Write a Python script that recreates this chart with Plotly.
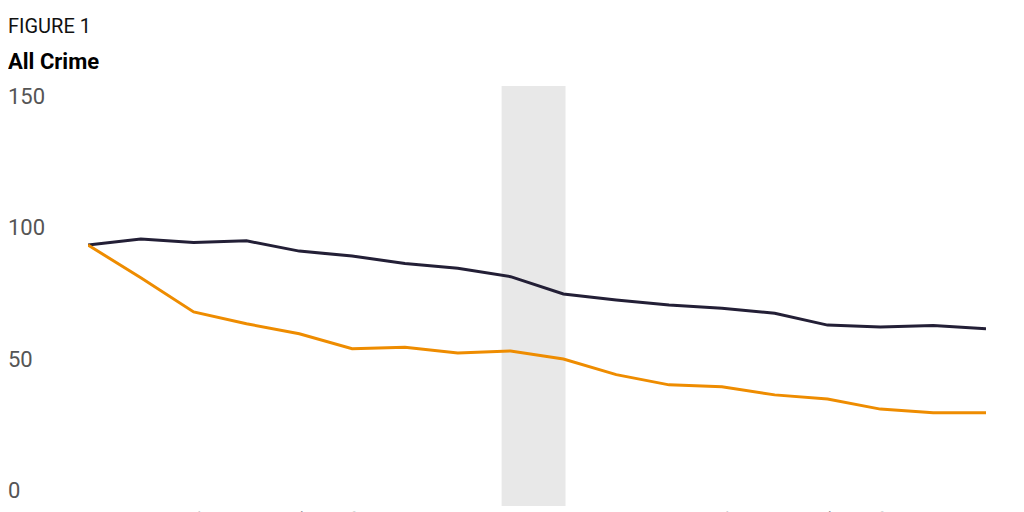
import plotly.graph_objects as go

years = list(range(2000, 2018))
series_dark = [93.4, 95.7, 94.4, 95.0, 91.1, 89.2, 86.4, 84.6, 81.4, 74.8, 72.5, 70.6, 69.4, 67.5, 63.0, 62.3, 62.8, 61.6]
series_orange = [93.4, 81.0, 68.0, 63.5, 59.7, 54.0, 54.6, 52.4, 53.2, 50.1, 44.2, 40.3, 39.6, 36.5, 34.9, 31.1, 29.7, 29.7]
y_ticks = [0, 50, 100, 150]
shade = (2007.83, 2009.04)

fig = go.Figure()
fig.add_vrect(x0=shade[0], x1=shade[1], fillcolor="#e8e8e8", line_width=0, layer="below")
fig.add_trace(go.Scatter(x=years, y=series_dark, mode="lines", line=dict(color="#231f36", width=3)))
fig.add_trace(go.Scatter(x=years, y=series_orange, mode="lines", line=dict(color="#ee8c00", width=3)))

for v in y_ticks:
    fig.add_annotation(x=0, xref="paper", y=v, yref="y", text=str(v), showarrow=False,
                       xanchor="left", yanchor="middle", xshift=-82,
                       font=dict(family="Roboto", size=22, color="#555555"))
fig.add_annotation(x=0, xref="paper", y=1, yref="paper", text="FIGURE 1", showarrow=False,
                   xanchor="left", yanchor="bottom", xshift=-82, yshift=46,
                   font=dict(family="Roboto", size=20, color="#111111"))
fig.add_annotation(x=0, xref="paper", y=1, yref="paper", text="<b>All Crime</b>", showarrow=False,
                   xanchor="left", yanchor="bottom", xshift=-82, yshift=10,
                   font=dict(family="Roboto", size=22, color="#000000"))

fig.update_layout(
    width=1024, height=512, showlegend=False,
    margin=dict(l=80, r=46, t=78, b=14, autoexpand=False),
    plot_bgcolor="white", paper_bgcolor="white",
    xaxis=dict(range=[2000, 2017], tickmode="array", tickvals=years, ticktext=[str(y) for y in years],
               tickangle=-90, showgrid=False, zeroline=False, showline=False, automargin=False,
               tickfont=dict(family="Roboto", size=20, color="#333333")),
    yaxis=dict(range=[-5.7, 153.8], showgrid=False, zeroline=False, showticklabels=False, automargin=False),
)
fig.write_html("out.html")
